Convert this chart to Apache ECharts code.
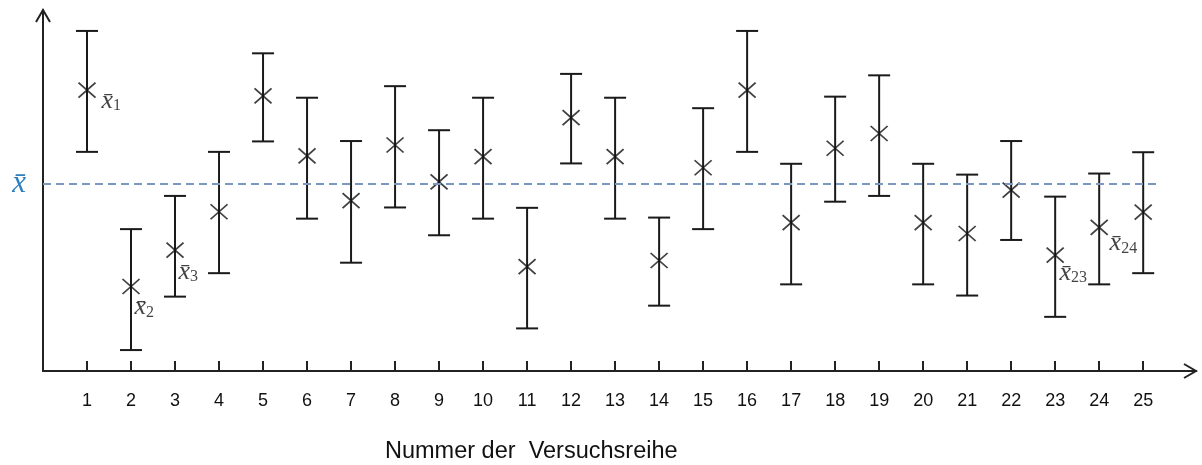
<!DOCTYPE html>
<html>
<head>
<meta charset="utf-8">
<script src="https://cdn.jsdelivr.net/npm/echarts@6/dist/echarts.min.js"></script>
<style>
html,body{margin:0;padding:0;background:#fff;}
#chart{width:1202px;height:465px;}
</style>
</head>
<body>
<div id="chart"></div>
<script>
// ---- data ----
const categories = ['1','2','3','4','5','6','7','8','9','10','11','12','13','14','15','16','17','18','19','20','21','22','23','24','25'];
const means = [77.8, 23.4, 33.5, 44.1, 76.2, 59.6, 47.2, 62.6, 52.4, 59.4, 28.9, 70.2, 59.4, 30.6, 56.3, 77.8, 41.1, 61.7, 65.8, 41.1, 38.1, 50.1, 32.1, 39.8, 44.0];
const upper = [94.2, 39.3, 48.5, 60.7, 88.0, 75.7, 63.7, 78.9, 66.7, 75.7, 45.2, 82.3, 75.7, 42.5, 72.8, 94.2, 57.4, 76.0, 81.9, 57.4, 54.4, 63.7, 48.3, 54.7, 60.6];
const lower = [60.7, 5.8, 20.6, 27.1, 63.6, 42.2, 30.0, 45.3, 37.6, 42.2, 11.8, 57.5, 42.2, 18.1, 39.3, 60.7, 24.0, 46.9, 48.5, 24.0, 20.9, 36.3, 15.0, 24.0, 27.1];
const grandMean = 51.8;
const labelledPoints = ['1','2','3','23','24'];
const xAxisTitle = 'Nummer der  Versuchsreihe';
const meanSymbol = 'x\u0304';

// ---- layout / style ----
const xMax = 26.2;
const meanLineEnd = 25.3;
const labelOffsets = {'1':[0,11], '2':[-11,21], '3':[-11,22], '23':[-10,18], '24':[-4,16]};
const serif = "'Liberation Serif','DejaVu Serif','Times New Roman',serif";
const sans = "'Liberation Sans',Arial,sans-serif";

const tickValues = categories.map((c, i) => i + 1);
const errorData = categories.map((c, i) => [i + 1, lower[i], upper[i]]);
const pointData = categories.map((c, i) => {
  const item = { value: [i + 1, means[i]] };
  if (labelledPoints.indexOf(c) >= 0) {
    item.label = {
      show: true,
      position: 'right',
      offset: labelOffsets[c],
      formatter: '{v|' + meanSymbol + '}{s|' + c + '}'
    };
  }
  return item;
});

const chart = echarts.init(document.getElementById('chart'), null, { renderer: 'canvas' });

const option = {
  animation: false,
  backgroundColor: '#fff',
  title: {
    text: xAxisTitle,
    left: 385,
    top: 440,
    padding: 0,
    textStyle: { fontFamily: sans, fontSize: 23.5, fontWeight: 'normal', color: '#111' }
  },
  grid: { left: 43, right: 6, top: 10, bottom: 94, containLabel: false },
  xAxis: {
    type: 'value',
    min: 0,
    max: xMax,
    axisLine: { show: true, lineStyle: { color: '#222', width: 2 } },
    axisTick: { show: true, inside: true, length: 10, customValues: tickValues, lineStyle: { color: '#222', width: 2 } },
    axisLabel: {
      show: true,
      customValues: tickValues,
      formatter: v => categories[Math.round(v) - 1] || '',
      margin: 21,
      fontFamily: sans,
      fontSize: 18,
      color: '#111'
    },
    splitLine: { show: false }
  },
  yAxis: {
    type: 'value',
    min: 0,
    max: 100,
    axisLine: { show: true, lineStyle: { color: '#222', width: 2 } },
    axisTick: { show: false },
    axisLabel: { show: false },
    splitLine: { show: false }
  },
  series: [
    {
      type: 'custom',
      name: 'range',
      data: errorData,
      encode: { x: 0, y: [1, 2] },
      z: 3,
      renderItem: function (params, api) {
        const x = api.value(0);
        const pLo = api.coord([x, api.value(1)]);
        const pHi = api.coord([x, api.value(2)]);
        const hw = 11;
        const style = { stroke: '#1a1a1a', lineWidth: 2, fill: null };
        return {
          type: 'group',
          children: [
            { type: 'line', shape: { x1: pHi[0], y1: pHi[1], x2: pLo[0], y2: pLo[1] }, style: style },
            { type: 'line', shape: { x1: pHi[0] - hw, y1: pHi[1], x2: pHi[0] + hw, y2: pHi[1] }, style: style },
            { type: 'line', shape: { x1: pLo[0] - hw, y1: pLo[1], x2: pLo[0] + hw, y2: pLo[1] }, style: style }
          ]
        };
      }
    },
    {
      type: 'scatter',
      name: 'mean',
      data: pointData,
      z: 4,
      symbol: 'path://M0,0L16,14M16,0L0,14',
      symbolSize: [17, 15],
      itemStyle: { color: 'rgba(0,0,0,0)', borderColor: '#111', borderWidth: 1.7 },
      emphasis: { disabled: true },
      label: {
        show: false,
        rich: {
          v: { fontFamily: serif, fontStyle: 'italic', fontSize: 26, color: '#111' },
          s: { fontFamily: serif, fontSize: 16, color: '#111', verticalAlign: 'bottom' }
        }
      },
      markLine: {
        silent: true,
        symbol: ['none', 'none'],
        lineStyle: { color: '#7b98c0', width: 2, type: [8, 5] },
        label: {
          show: true,
          position: 'start',
          distance: 17,
          formatter: meanSymbol,
          fontFamily: serif,
          fontStyle: 'italic',
          fontSize: 31,
          color: '#2f7fc1'
        },
        data: [[{ coord: [0, grandMean] }, { coord: [meanLineEnd, grandMean] }]]
      }
    }
  ]
};
chart.setOption(option);

// open chevron arrowheads at the axis ends
const xEnd = chart.convertToPixel({ gridIndex: 0 }, [xMax, 0]);
const yEnd = chart.convertToPixel({ gridIndex: 0 }, [0, 100]);
chart.setOption({
  graphic: [
    { type: 'polyline', z: 10, shape: { points: [[xEnd[0] - 12, xEnd[1] - 7], [xEnd[0], xEnd[1]], [xEnd[0] - 12, xEnd[1] + 7]] }, style: { stroke: '#222', lineWidth: 2, fill: null } },
    { type: 'polyline', z: 10, shape: { points: [[yEnd[0] - 7, yEnd[1] + 12], [yEnd[0], yEnd[1]], [yEnd[0] + 7, yEnd[1] + 12]] }, style: { stroke: '#222', lineWidth: 2, fill: null } }
  ]
});
</script>
</body>
</html>
